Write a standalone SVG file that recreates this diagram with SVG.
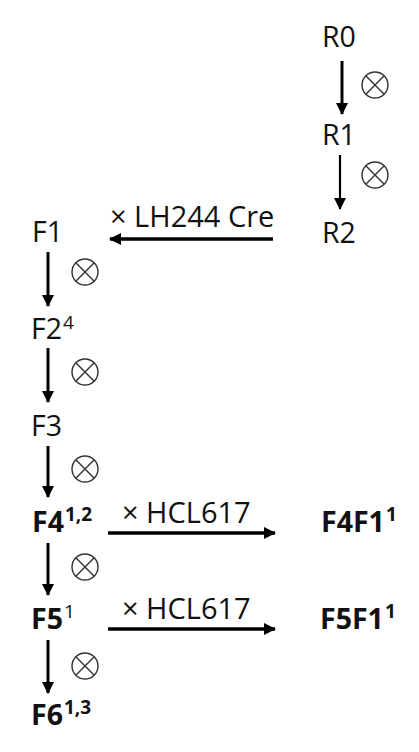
<svg xmlns="http://www.w3.org/2000/svg" width="419" height="752" viewBox="0 0 419 752">
  <defs>
    <marker id="head" viewBox="0 0 12 12" markerWidth="12" markerHeight="12" refX="11" refY="6" orient="auto" markerUnits="userSpaceOnUse">
      <path d="M0,0 L12,6 L0,12 Z" fill="#000"/>
    </marker>
    <g id="selfing">
      <circle cx="0" cy="0" r="13" fill="none" stroke="#333" stroke-width="1.4"/>
      <path d="M-9.2,-9.2 L9.2,9.2 M-9.2,9.2 L9.2,-9.2" stroke="#333" stroke-width="1.4"/>
    </g>
  </defs>
  <style>
    text { font-family: "Open Sans", "Liberation Sans", sans-serif; fill: #111; }
    .lbl { font-size: 28.5px; }
    .b { font-weight: bold; }
    .sup { font-size: 19px; }
    .cross { font-size: 29px; }
    .edge { stroke: #000; stroke-width: 3; fill: none; marker-end: url(#head); }
    .thin { stroke-width: 2.2; }
  </style>
  <rect width="419" height="752" fill="#fff"/>

  <!-- nodes -->
  <g id="R0"><text class="lbl" x="322" y="47">R0</text></g>
  <g id="R1"><text class="lbl" x="322" y="145">R1</text></g>
  <g id="R2"><text class="lbl" x="322" y="243">R2</text></g>
  <g id="F1"><text class="lbl" x="32" y="242">F1</text></g>
  <g id="F2"><text class="lbl" x="31" y="339">F2<tspan class="sup" dx="1" dy="-10">4</tspan></text></g>
  <g id="F3"><text class="lbl" x="31" y="436">F3</text></g>
  <g id="F4"><text class="lbl b" x="32" y="532">F4<tspan class="sup" dx="1" dy="-11">1,2</tspan></text></g>
  <g id="F4F1"><text class="lbl b" x="321" y="532">F4F1<tspan class="sup" dx="1" dy="-11">1</tspan></text></g>
  <g id="F5"><text class="lbl b" x="31" y="629">F5<tspan class="sup" font-weight="normal" dx="1" dy="-11">1</tspan></text></g>
  <g id="F5F1"><text class="lbl b" x="320" y="629">F5F1<tspan class="sup" dx="1" dy="-11">1</tspan></text></g>
  <g id="F6"><text class="lbl b" x="31" y="725">F6<tspan class="sup" dx="1" dy="-11">1,3</tspan></text></g>

  <!-- connectors -->
  <g id="connectors">
    <line class="edge" x1="342" y1="61" x2="342" y2="114"/>
    <line class="edge thin" x1="340" y1="155" x2="340" y2="209"/>
    <line class="edge" x1="273" y1="239" x2="110" y2="239" style="stroke-width:3.5"/>
    <line class="edge" x1="48" y1="252" x2="48" y2="306"/>
    <line class="edge" x1="48" y1="348" x2="48" y2="402"/>
    <line class="edge" x1="48" y1="446" x2="48" y2="497"/>
    <line class="edge" x1="48" y1="543" x2="48" y2="595"/>
    <line class="edge" x1="48" y1="640" x2="48" y2="693"/>
    <line class="edge" x1="108" y1="533" x2="275" y2="533" style="stroke-width:3.5"/>
    <line class="edge" x1="108" y1="629" x2="275" y2="629" style="stroke-width:3.5"/>

    <!-- self-cross symbols -->
    <use href="#selfing" x="375" y="85"/>
    <use href="#selfing" x="375" y="175"/>
    <use href="#selfing" x="85" y="272"/>
    <use href="#selfing" x="85" y="372"/>
    <use href="#selfing" x="85" y="469"/>
    <use href="#selfing" x="85" y="567"/>
    <use href="#selfing" x="85" y="666"/>

    <!-- cross labels -->
    <text class="cross" x="110" y="227">× LH244 Cre</text>
    <text class="cross" x="122" y="523">× HCL617</text>
    <text class="cross" x="122" y="619">× HCL617</text>
  </g>
</svg>
